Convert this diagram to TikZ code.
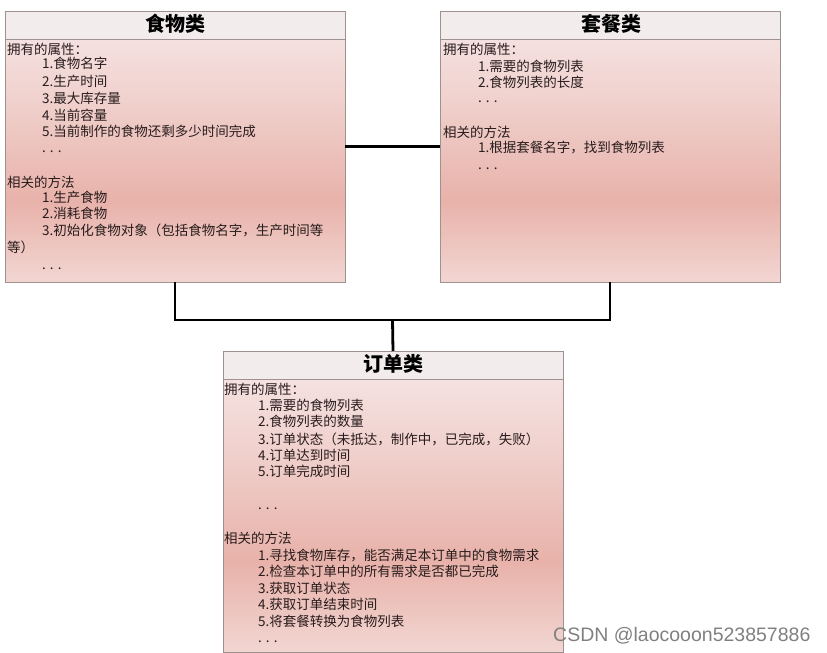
\documentclass[tikz,border=0pt]{standalone}
\usepackage{fontspec}
\setmainfont{Noto Sans CJK SC}
\newfontfamily\wmfont{Liberation Sans}
\definecolor{pktop}{RGB}{246,232,232}
\definecolor{pkmid}{RGB}{240,208,204}
\definecolor{pkdeep}{RGB}{232,178,170}
\definecolor{pkbot}{RGB}{242,214,210}
\definecolor{hdr}{RGB}{242,236,236}
\definecolor{edge}{RGB}{160,145,145}
\definecolor{txt}{RGB}{40,28,28}
\pgfdeclareverticalshading{pinkbody}{100bp}{color(0bp)=(pkbot); color(25bp)=(pkbot); color(40bp)=(pkdeep); color(58bp)=(pkmid); color(75bp)=(pktop); color(100bp)=(pktop)}
\begin{document}
\begin{tikzpicture}[x=1pt,y=-1pt,
  classbox/.style={draw=edge, line width=0.8pt, shading=pinkbody, rectangle, anchor=north west, inner sep=0pt, outer sep=0pt, minimum width=340pt},
  headbox/.style={draw=edge, line width=0.8pt, fill=hdr, rectangle, anchor=north west, inner sep=0pt, outer sep=0pt, minimum width=340pt, minimum height=28pt},
  title/.style={font=\fontsize{20}{22}\selectfont\bfseries, text=black, inner sep=0pt},
  ln/.style={font=\fontsize{13.5}{15}\selectfont, text=txt, anchor=west, inner sep=0pt},
  dots/.style={font=\fontsize{13.5}{15}\selectfont, text=txt, anchor=base west, inner sep=0pt},
  conn/.style={line width=2.8pt, black}]
\useasboundingbox (0,0) rectangle (827,653);
% boxes
\node[classbox, minimum height=271pt] (food) at (5,11) {};
\node[headbox] (foodhd) at (5,11) {};
\node[classbox, minimum height=271pt] (combo) at (440,11) {};
\node[headbox] (combohd) at (440,11) {};
\node[classbox, minimum height=301pt] (order) at (223,351) {};
\node[headbox] (orderhd) at (223,351) {};
% titles
\node[title] (foodt) at (175,23.5) {食物类};
\node[title] (combot) at (611,23.5) {套餐类};
\node[title] (ordert) at (393,363.5) {订单类};
% food text
\node[ln] (f0) at (7,49) {拥有的属性：};
\node[ln] (f1) at (42,63) {1.食物名字};
\node[ln] (f2) at (42,81) {2.生产时间};
\node[ln] (f3) at (42,98) {3.最大库存量};
\node[ln] (f4) at (42,115) {4.当前容量};
\node[ln] (f5) at (42,131) {5.当前制作的食物还剩多少时间完成};
\node[dots] (f6) at (42,152) {. . .};
\node[ln] (f7) at (7,182) {相关的方法};
\node[ln] (f8) at (42,197) {1.生产食物};
\node[ln] (f9) at (42,213) {2.消耗食物};
\node[ln] (f10) at (42,230) {3.初始化食物对象（包括食物名字，生产时间等};
\node[ln] (f11) at (7,247) {等）};
\node[dots] (f12) at (42,269) {. . .};
% combo text
\node[ln] (c0) at (443,49) {拥有的属性：};
\node[ln] (c1) at (478,66) {1.需要的食物列表};
\node[ln] (c2) at (478,82) {2.食物列表的长度};
\node[dots] (c3) at (478,102) {. . .};
\node[ln] (c4) at (443,132) {相关的方法};
\node[ln] (c5) at (478,148) {1.根据套餐名字，找到食物列表};
\node[dots] (c6) at (478,169) {. . .};
% order text
\node[ln] (o0) at (224,389) {拥有的属性：};
\node[ln] (o1) at (258,405) {1.需要的食物列表};
\node[ln] (o2) at (258,421) {2.食物列表的数量};
\node[ln] (o3) at (258,439) {3.订单状态（未抵达，制作中，已完成，失败）};
\node[ln] (o4) at (258,455) {4.订单达到时间};
\node[ln] (o5) at (258,471) {5.订单完成时间};
\node[dots] (o6) at (258,509) {. . .};
\node[ln] (o7) at (224,538) {相关的方法};
\node[ln] (o8) at (258,555) {1.寻找食物库存，能否满足本订单中的食物需求};
\node[ln] (o9) at (258,571) {2.检查本订单中的所有需求是否都已完成};
\node[ln] (o10) at (258,588) {3.获取订单状态};
\node[ln] (o11) at (258,604) {4.获取订单结束时间};
\node[ln] (o12) at (258,621) {5.将套餐转换为食物列表};
\node[dots] (o13) at (258,642) {. . .};
% connectors
\coordinate (bus) at (392.5,320);
\draw[conn] (food.east) -- (combo.west);
\draw[conn] (food.south) |- (bus) -| (combo.south);
\draw[conn] (bus) -- (order.north);
% watermark
\node[anchor=west, inner sep=0pt, font=\wmfont\fontsize{19.5}{21}\selectfont, text=black!50] (wm) at (553,636) {CSDN @laocooon523857886};
\end{tikzpicture}
\end{document}
